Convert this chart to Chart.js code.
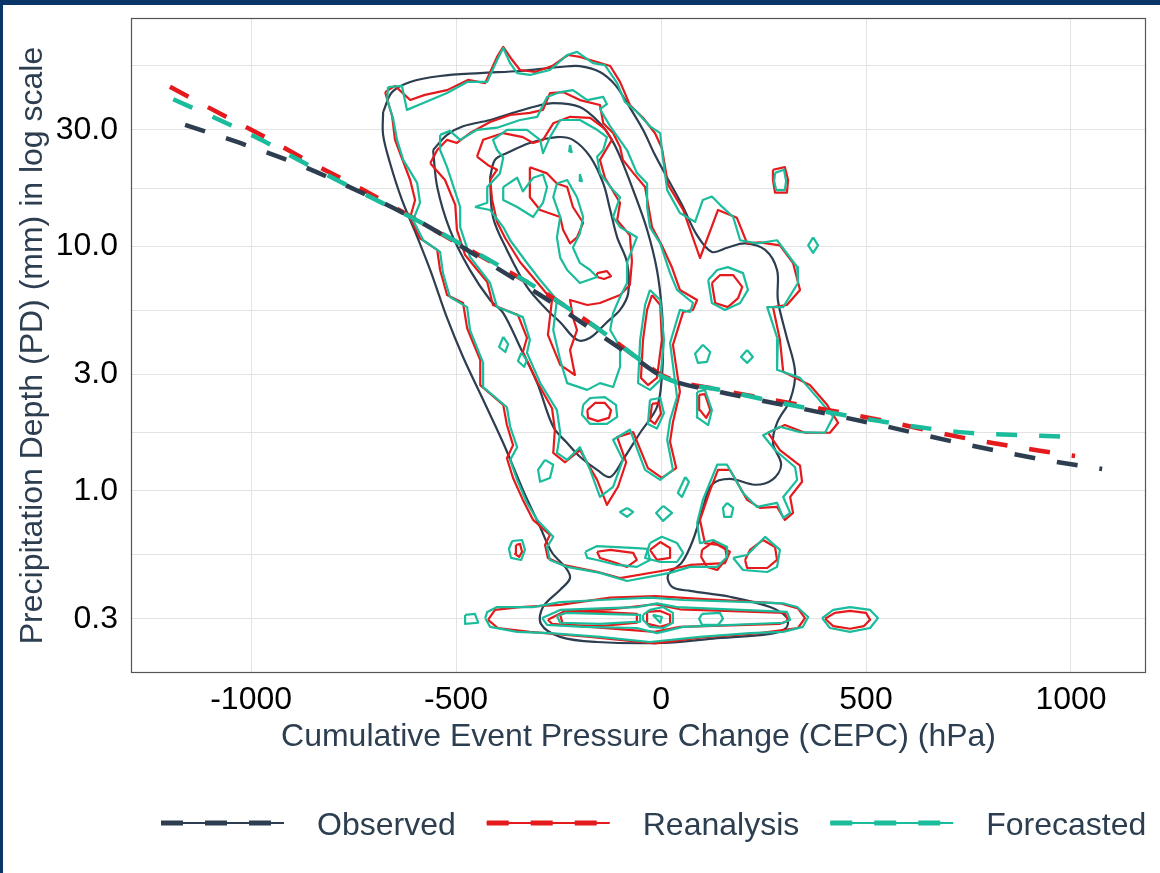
<!DOCTYPE html>
<html>
<head>
<meta charset="utf-8">
<script src="https://cdn.jsdelivr.net/npm/chart.js@4"></script>
<style>
  html, body { margin: 0; padding: 0; background: #fff; }
  canvas { display: block; }
</style>
</head>
<body>
<canvas id="grafico" width="1160" height="873"></canvas>
<script>
// Series, ticks and contour paths (x = CEPC in hPa, y = PD in mm)
const seriesNames = ['Observed', 'Reanalysis', 'Forecasted'];
const seriesColors = ['#2c3e50', '#e41a1c', '#1abc9c'];
const xTicks = [-1000, -500, 0, 500, 1000];
const yTicks = [0.3, 1, 3, 10, 30];
const yMinor = [0.548, 1.73, 5.48, 17.3, 54.8];

// trend lines
const obsTrend = [[-1161,31.4],[-1027,26.5],[-880,21.5],[-734,16.7],[-588,12.6],[-441,8.97],[-295,6.33],[-149,4.35],[-51,3.37],[10,2.90],[144,2.54],[339,2.18],[534,1.86],[729,1.57],[924,1.35],[1076,1.23]];
const reaTrend = [[-1198,45.0],[-1061,33.9],[-966,28.0],[-871,22.8],[-734,17.3],[-588,12.6],[-441,9.15],[-295,6.64],[-149,4.55],[-51,3.43],[10,2.93],[144,2.59],[339,2.25],[534,1.95],[729,1.66],[924,1.46],[1010,1.39]];
const fcTrend = [[-1190,40.0],[-1061,32.0],[-966,26.8],[-871,22.0],[-734,16.7],[-588,12.6],[-441,9.23],[-295,6.64],[-149,4.55],[-51,3.43],[10,2.90],[144,2.59],[339,2.21],[534,1.93],[729,1.74],[924,1.68],[1010,1.66]];

// observed density contours
const obsLevel1 = [[-678,35.5],[-656,42.8],[-612,47.1],[-539,49.8],[-441,51.2],[-344,52.2],[-246,54.2],[-198,54.7],[-149,51.7],[-112,45.8],[-80,37.9],[-44,30.0],[-15,23.7],[15,19.1],[51,14.8],[88,11.1],[124,9.5],[163,9.9],[205,10.3],[254,9.68],[283,8.01],[285,6.04],[305,4.35],[327,3.07],[315,2.36],[283,1.90],[273,1.57],[293,1.28],[271,1.11],[229,1.06],[168,1.12],[124,1.06],[102,0.85],[78,0.63],[51,0.51],[17,0.453],[27,0.405],[71,0.39],[168,0.369],[266,0.335],[307,0.303],[305,0.275],[266,0.26],[127,0.249],[5,0.239],[-156,0.241],[-246,0.253],[-293,0.286],[-288,0.335],[-246,0.394],[-222,0.44],[-232,0.484],[-266,0.56],[-295,0.712],[-337,1.01],[-385,1.57],[-434,2.36],[-483,3.53],[-522,5.1],[-563,8.0],[-600,11.5],[-632,15.5],[-661,21.9],[-678,28.6]];
const obsLevel2 = [[-556,24.8],[-522,28.6],[-483,31.0],[-417,32.9],[-361,35.2],[-312,37.2],[-263,38.6],[-198,37.2],[-149,31.9],[-120,27.3],[-100,23.3],[-68,17.0],[-34,11.7],[-10,8.01],[2,5.5],[5,3.96],[2,2.93],[-10,2.2],[-51,1.73],[-93,1.34],[-124,1.14],[-156,1.22],[-198,1.38],[-229,1.57],[-263,1.83],[-302,2.76],[-344,3.88],[-385,5.34],[-417,6.04],[-466,8.0],[-515,11.7],[-546,17.5]];
const obsLevel3 = [[-417,19.2],[-405,22.6],[-376,24.1],[-320,26.5],[-254,28.0],[-215,27.3],[-173,23.3],[-141,18.1],[-124,14.1],[-107,10.9],[-83,8.6],[-80,6.45],[-100,5.5],[-132,4.9],[-173,4.23],[-205,4.15],[-246,4.9],[-278,5.5],[-327,6.83],[-376,9.68],[-410,13.2]];

// reanalysis density contours
const reaLevel1 = [[-673,42.8],[-649,45.4],[-612,39.7],[-576,41.7],[-522,43.6],[-471,48.0],[-429,46.6],[-400,59.6],[-385,65.5],[-363,57.9],[-344,52.7],[-307,51.7],[-266,54.7],[-227,60.7],[-198,59.6],[-154,56.7],[-124,54.7],[-100,47.1],[-76,37.9],[-44,33.6],[-15,29.1],[2,25.3],[17,17.9],[54,14.1],[95,8.97],[139,14.1],[185,13.1],[210,10.3],[241,10.4],[290,10.1],[322,8.56],[339,6.64],[307,5.76],[273,5.65],[290,4.15],[298,3.07],[363,2.71],[405,2.25],[432,1.90],[412,1.73],[351,1.73],[302,1.86],[261,1.73],[290,1.47],[339,1.27],[344,1.09],[315,0.945],[322,0.813],[302,0.761],[283,0.860],[241,0.852],[210,0.919],[168,1.22],[139,1.22],[120,1.01],[95,0.761],[107,0.612],[139,0.601],[168,0.564],[156,0.507],[71,0.498],[15,0.475],[-100,0.440],[-156,0.467],[-239,0.498],[-276,0.532],[-283,0.601],[-271,0.661],[-312,0.761],[-337,0.919],[-361,1.13],[-376,1.36],[-361,1.54],[-376,1.86],[-385,2.25],[-441,2.71],[-441,3.43],[-473,4.63],[-483,5.87],[-522,6.33],[-539,8.01],[-546,9.68],[-588,10.8],[-612,13.1],[-600,15.5],[-612,18.7],[-649,27.3],[-656,34.1]];
const reaLevel2 = [[-563,21.9],[-546,24.8],[-522,27.3],[-498,26.5],[-466,29.1],[-417,32.3],[-368,34.5],[-320,35.2],[-288,36.2],[-271,42.4],[-239,42.8],[-198,39.7],[-149,37.9],[-141,31.9],[-117,29.1],[-100,25.5],[-93,22.6],[-68,20.0],[-39,17.5],[-32,15.0],[-22,12.0],[2,10.1],[27,8.18],[46,6.64],[88,6.04],[78,5.50],[54,5.40],[29,3.96],[46,2.54],[29,1.91],[22,1.59],[37,1.24],[2,1.13],[-32,1.24],[-68,1.74],[-107,1.66],[-85,1.31],[-105,1.04],[-132,0.877],[-156,1.11],[-198,1.47],[-234,1.31],[-263,1.43],[-259,1.78],[-266,2.18],[-302,2.79],[-337,3.70],[-327,4.23],[-349,5.24],[-410,5.76],[-424,7.16],[-478,9.23],[-498,11.7],[-502,14.8],[-527,18.7]];
const reaLevel3 = [[-449,23.3],[-434,27.3],[-385,29.1],[-337,28.0],[-312,26.5],[-288,27.3],[-263,31.9],[-222,33.9],[-173,33.6],[-137,30.3],[-120,27.3],[-149,22.6],[-137,19.1],[-100,15.1],[-107,12.8],[-76,11.1],[-71,8.7],[-76,6.96],[-100,6.33],[-149,5.87],[-180,5.76],[-222,6.04],[-215,5.14],[-205,4.55],[-222,3.77],[-210,2.98],[-246,3.28],[-276,4.35],[-266,6.04],[-307,7.29],[-344,8.64],[-380,10.8],[-400,12.6],[-412,15.5],[-417,18.7],[-400,20.6],[-422,21.5]];
const reaInner = [
  [[-320,21.1],[-278,19.9],[-254,18.1],[-229,17.5],[-215,14.5],[-190,12.5],[-205,10.9],[-222,10.3],[-239,11.7],[-246,13.2],[-295,14.1],[-320,15.9]],
  [[-156,7.78],[-132,7.93],[-122,7.56],[-139,7.36],[-156,7.5]]
];
const reaIslands = [
  [[-180,2.14],[-161,2.29],[-137,2.29],[-122,2.14],[-127,1.99],[-154,1.93],[-178,1.99]],
  [[-22,6.33],[-2,5.76],[2,4.15],[-10,2.90],[-32,2.71],[-49,2.90],[-44,4.15],[-34,5.5]],
  [[124,7.09],[144,7.64],[176,7.64],[198,6.83],[188,6.15],[163,5.65],[132,5.87]],
  [[273,20.6],[302,21.1],[310,18.7],[307,16.6],[278,16.6],[273,18.7]],
  [[93,2.47],[107,2.49],[120,2.14],[110,1.99],[95,2.14]],
  [[-22,2.27],[-5,2.29],[0,2.07],[-15,1.88],[-27,1.95]],
  [[-354,0.601],[-344,0.607],[-339,0.564],[-346,0.537],[-356,0.553]],
  [[-156,0.564],[-124,0.574],[-68,0.558],[-59,0.522],[-83,0.489],[-117,0.512],[-149,0.532]],
  [[-27,0.574],[-2,0.618],[22,0.584],[22,0.532],[-10,0.522]],
  [[100,0.574],[127,0.618],[156,0.590],[161,0.532],[137,0.475],[112,0.489],[98,0.537]],
  [[205,0.522],[217,0.574],[249,0.630],[278,0.590],[283,0.522],[259,0.484],[210,0.484]]
];
const reaBand = [
  [[-422,0.297],[-405,0.326],[-344,0.335],[-246,0.342],[-124,0.366],[-15,0.371],[95,0.362],[290,0.347],[334,0.331],[351,0.302],[334,0.275],[241,0.262],[95,0.251],[-15,0.238],[-173,0.253],[-320,0.265],[-398,0.275]],
  [[-276,0.297],[-234,0.323],[-124,0.328],[-15,0.344],[46,0.328],[302,0.317],[310,0.294],[290,0.286],[46,0.278],[-15,0.265],[-198,0.280],[-266,0.286]],
  [[-246,0.311],[-229,0.320],[-149,0.320],[-59,0.314],[-59,0.289],[-149,0.280],[-239,0.283]],
  [[-34,0.320],[-2,0.323],[22,0.311],[22,0.286],[-2,0.278],[-32,0.286]],
  [[400,0.300],[424,0.317],[461,0.323],[500,0.317],[510,0.297],[495,0.280],[461,0.273],[420,0.280]]
];

// forecasted density contours
const fcLevel1 = [[-666,44.9],[-632,45.4],[-620,36.2],[-580,38.6],[-522,42.4],[-473,47.1],[-424,47.1],[-400,57.9],[-385,64.8],[-368,56.2],[-351,51.2],[-320,50.3],[-271,52.7],[-229,60.7],[-205,62.5],[-166,56.2],[-137,55.2],[-107,46.6],[-88,39.0],[-59,35.5],[-27,31.0],[-2,29.1],[2,24.8],[15,17.0],[46,13.7],[83,12.6],[102,15.5],[124,16.0],[144,14.8],[176,13.2],[193,10.6],[234,10.3],[283,10.6],[332,8.24],[334,7.09],[298,5.65],[259,5.65],[285,4.15],[283,3.13],[339,2.90],[380,2.42],[420,2.01],[400,1.73],[339,1.74],[290,1.83],[249,1.69],[278,1.47],[327,1.25],[332,1.11],[298,0.945],[315,0.813],[298,0.776],[283,0.893],[234,0.860],[200,0.981],[161,1.28],[137,1.28],[102,0.919],[88,0.740],[95,0.612],[127,0.630],[161,0.590],[161,0.537],[137,0.489],[71,0.489],[22,0.462],[-83,0.428],[-149,0.462],[-229,0.489],[-271,0.522],[-278,0.590],[-263,0.649],[-302,0.761],[-327,0.893],[-351,1.11],[-368,1.34],[-351,1.51],[-368,1.83],[-376,2.20],[-434,2.66],[-434,3.34],[-466,4.55],[-473,5.65],[-515,6.21],[-532,7.78],[-539,9.50],[-580,10.6],[-605,12.8],[-588,15.1],[-595,18.2],[-629,22.6],[-644,27.3],[-654,33.6],[-668,39.7]];
const fcLevel2 = [[-539,28.6],[-515,29.7],[-490,27.3],[-449,30.0],[-400,30.6],[-344,32.9],[-302,33.9],[-278,40.9],[-246,42.8],[-215,43.6],[-180,39.7],[-141,40.9],[-132,38.2],[-149,36.5],[-124,31.0],[-83,24.8],[-59,20.0],[-34,18.1],[-34,14.5],[-27,12.0],[-2,10.3],[22,7.78],[39,6.64],[78,5.87],[71,5.40],[46,5.50],[22,4.03],[39,2.42],[22,1.95],[15,1.62],[29,1.22],[-2,1.11],[-39,1.22],[-76,1.78],[-117,1.62],[-93,1.34],[-117,1.04],[-149,0.945],[-173,1.22],[-198,1.51],[-229,1.34],[-254,1.43],[-246,1.73],[-254,2.14],[-295,2.77],[-327,3.67],[-320,4.15],[-337,5.14],[-400,5.65],[-417,7.09],[-466,9.06],[-490,12.0],[-490,14.5],[-522,21.1],[-539,24.8]];
const fcLevel3 = [[-454,14.5],[-424,15.1],[-424,17.5],[-393,19.9],[-385,23.1],[-400,24.8],[-410,27.3],[-376,30.0],[-327,30.0],[-295,27.3],[-288,24.1],[-271,28.0],[-246,32.9],[-198,32.9],[-156,30.0],[-132,28.0],[-141,24.8],[-156,23.3],[-149,19.9],[-117,17.0],[-100,15.9],[-117,13.2],[-100,12.0],[-59,10.9],[-83,8.6],[-83,7.09],[-100,6.21],[-117,5.34],[-124,4.55],[-100,3.88],[-100,3.22],[-117,2.66],[-149,2.76],[-180,2.59],[-229,2.76],[-246,3.43],[-263,4.55],[-254,6.04],[-295,7.29],[-327,8.56],[-368,10.6],[-385,12.0],[-417,14.1]];
const fcInner = [
  [[-385,17.5],[-351,19.1],[-337,16.8],[-312,19.1],[-288,19.7],[-278,17.5],[-288,15.1],[-312,13.2],[-351,14.5],[-385,15.5]],
  [[-254,18.1],[-229,18.7],[-205,15.9],[-190,13.2],[-198,11.3],[-215,9.9],[-198,8.56],[-173,8.01],[-156,7.5],[-198,7.09],[-229,8.01],[-246,9.0],[-254,10.9],[-246,13.2],[-263,15.9]],
  [[-222,26.0],[-218,24.3],[-224,24.5]],
  [[-198,19.8],[-193,18.5],[-199,18.6]]
];
const fcIslands = [
  [[-190,2.25],[-173,2.40],[-137,2.42],[-110,2.25],[-107,2.01],[-132,1.88],[-173,1.88],[-193,2.05]],
  [[-27,6.64],[-2,6.04],[7,4.15],[-2,2.84],[-27,2.59],[-56,2.76],[-51,4.15],[-39,5.76]],
  [[115,7.29],[137,8.01],[163,8.23],[200,7.78],[212,6.64],[193,5.87],[156,5.50],[124,5.87]],
  [[278,20.0],[300,20.6],[305,18.5],[302,17.0],[281,17.0],[276,18.5]],
  [[371,10.9],[383,10.1],[371,9.41],[359,10.1]],
  [[-385,4.27],[-373,3.99],[-380,3.70],[-395,3.88]],
  [[-341,3.67],[-327,3.43],[-334,3.22],[-349,3.40]],
  [[-283,1.34],[-263,1.28],[-271,1.13],[-295,1.09],[-300,1.22]],
  [[102,3.96],[120,3.70],[112,3.37],[90,3.34],[83,3.64]],
  [[210,3.77],[224,3.53],[210,3.34],[195,3.53]],
  [[59,1.14],[68,1.09],[51,0.945],[41,0.981]],
  [[161,0.893],[176,0.852],[171,0.783],[154,0.783],[151,0.852]],
  [[-83,0.852],[-68,0.82],[-83,0.783],[-100,0.82]],
  [[5,0.868],[27,0.813],[5,0.754],[-12,0.813]],
  [[88,2.54],[107,2.59],[124,2.14],[115,1.86],[90,1.99]],
  [[-27,2.36],[-2,2.40],[7,2.08],[-10,1.80],[-32,1.88]],
  [[-363,0.624],[-339,0.630],[-332,0.574],[-341,0.522],[-366,0.532],[-371,0.580]],
  [[-185,0.564],[-156,0.595],[-59,0.584],[-34,0.579],[-27,0.522],[-59,0.489],[-107,0.498],[-156,0.522],[-180,0.532]],
  [[-27,0.612],[2,0.649],[39,0.612],[54,0.558],[39,0.512],[-2,0.512],[-39,0.532]],
  [[176,0.532],[210,0.547],[254,0.649],[290,0.574],[283,0.489],[259,0.466],[200,0.475]]
];
const fcBand = [
  [[-429,0.302],[-424,0.320],[-400,0.335],[-312,0.335],[-246,0.351],[-149,0.358],[-27,0.366],[54,0.358],[217,0.351],[298,0.347],[332,0.335],[359,0.305],[346,0.278],[298,0.265],[217,0.262],[95,0.253],[-27,0.241],[-149,0.253],[-271,0.262],[-351,0.265],[-417,0.278]],
  [[-290,0.302],[-246,0.326],[-149,0.331],[-59,0.335],[-10,0.347],[39,0.335],[307,0.320],[315,0.297],[298,0.289],[54,0.278],[-10,0.262],[-59,0.275],[-190,0.278],[-278,0.283]],
  [[-254,0.308],[-234,0.317],[-149,0.314],[-51,0.311],[-51,0.292],[-149,0.286],[-246,0.289]],
  [[-44,0.311],[-27,0.326],[5,0.335],[29,0.317],[29,0.289],[5,0.275],[-27,0.278],[-44,0.297]],
  [[-20,0.311],[2,0.305],[-2,0.289]],
  [[100,0.314],[144,0.317],[151,0.300],[139,0.283],[100,0.283],[93,0.300]],
  [[393,0.302],[420,0.326],[461,0.335],[510,0.326],[529,0.302],[510,0.275],[461,0.265],[412,0.275]],
  [[-478,0.311],[-454,0.314],[-446,0.289],[-478,0.286]]
];

const fontFamily = '"Liberation Sans", Arial, sans-serif';
const titleColor = '#2c3e50';

function contour(points, color, order, tension) {
  const closed = points.concat([points[0]]);
  return {
    type: 'line',
    data: closed.map(p => ({x: p[0], y: p[1]})),
    borderColor: color,
    borderWidth: 2.2,
    borderJoinStyle: 'round',
    pointRadius: 0,
    fill: false,
    tension: tension || 0,
    order: order
  };
}

function trend(points, color, order) {
  return {
    type: 'line',
    data: points.map(p => ({x: p[0], y: p[1]})),
    borderColor: color,
    borderWidth: 4.5,
    borderDash: [21, 22],
    borderCapStyle: 'butt',
    pointRadius: 0,
    fill: false,
    cubicInterpolationMode: 'monotone',
    order: order
  };
}

const datasets = [];
datasets.push(trend(obsTrend, seriesColors[0], 0));
datasets.push(trend(fcTrend, seriesColors[2], 1));
datasets.push(trend(reaTrend, seriesColors[1], 2));
[fcLevel1, fcLevel2, fcLevel3].concat(fcInner, fcIslands, fcBand)
  .forEach(c => datasets.push(contour(c, seriesColors[2], 3)));
[reaLevel1, reaLevel2, reaLevel3].concat(reaInner, reaIslands, reaBand)
  .forEach(c => datasets.push(contour(c, seriesColors[1], 4)));
[obsLevel1, obsLevel2, obsLevel3]
  .forEach(c => datasets.push(contour(c, seriesColors[0], 5, 0.35)));

const pageDecor = {
  id: 'pageDecor',
  beforeDraw(chart) {
    const ctx = chart.ctx;
    ctx.save();
    ctx.fillStyle = '#ffffff';
    ctx.fillRect(0, 0, chart.width, chart.height);
    ctx.restore();
  },
  afterDraw(chart) {
    const ctx = chart.ctx;
    const a = chart.chartArea;
    ctx.save();
    // panel border
    ctx.strokeStyle = '#555555';
    ctx.lineWidth = 1.2;
    ctx.strokeRect(a.left + 0.5, a.top + 0.5, a.right - a.left - 1, a.bottom - a.top - 1);

    // legend
    ctx.font = '32px ' + fontFamily;
    ctx.textBaseline = 'alphabetic';
    let x = 161;
    const y = 823;
    seriesNames.forEach((name, i) => {
      ctx.strokeStyle = seriesColors[i];
      ctx.lineCap = 'butt';
      ctx.lineWidth = 2;
      ctx.beginPath(); ctx.moveTo(x, y); ctx.lineTo(x + 123, y); ctx.stroke();
      ctx.lineWidth = 5;
      for (let k = 0; k < 3; k++) {
        ctx.beginPath(); ctx.moveTo(x + k * 44, y); ctx.lineTo(x + k * 44 + 22, y); ctx.stroke();
      }
      ctx.fillStyle = titleColor;
      ctx.fillText(name, x + 156, y + 12);
      x += 156 + ctx.measureText(name).width + 31;
    });

    // page frame
    ctx.fillStyle = '#0a3569';
    ctx.fillRect(0, 0, chart.width, 5);
    ctx.fillRect(0, 0, 3, chart.height);
    ctx.restore();
  }
};

new Chart(document.getElementById('grafico'), {
  type: 'line',
  data: { datasets: datasets },
  options: {
    responsive: false,
    animation: false,
    layout: { padding: { top: 18, right: 14, bottom: 110, left: 0 } },
    plugins: { legend: { display: false }, tooltip: { enabled: false } },
    scales: {
      x: {
        type: 'linear',
        min: -1293,
        max: 1183,
        afterBuildTicks: s => { s.ticks = xTicks.map(v => ({ value: v })); },
        afterFit: s => { s.height = 90; s.paddingLeft = 0; s.paddingRight = 0; },
        grid: { color: '#e3e3e3', lineWidth: 1, drawTicks: false },
        border: { display: false },
        ticks: {
          padding: 8, color: '#000', maxRotation: 0, autoSkip: false,
          font: { size: 32, family: fontFamily },
          callback: v => String(v)
        },
        title: {
          display: true,
          text: 'Cumulative Event Pressure Change (CEPC) (hPa)',
          color: titleColor,
          font: { size: 32, family: fontFamily },
          padding: { top: 0, bottom: 7 }
        }
      },
      y: {
        type: 'logarithmic',
        min: 0.18,
        max: 86,
        afterBuildTicks: s => {
          s.ticks = yTicks.concat(yMinor).sort((a, b) => a - b).map(v => ({ value: v }));
        },
        afterFit: s => { s.width = 131; s.paddingTop = 0; s.paddingBottom = 0; },
        grid: { color: '#e3e3e3', lineWidth: 1, drawTicks: false },
        border: { display: false },
        ticks: {
          padding: 13,
          color: '#000',
          autoSkip: false,
          font: { size: 32, family: fontFamily },
          callback: v => yTicks.includes(v) ? v.toFixed(1) : ''
        },
        title: {
          display: true,
          text: 'Precipitation Depth (PD) (mm) in log scale',
          color: titleColor,
          font: { size: 32, family: fontFamily },
          padding: { top: 14, bottom: 0 }
        }
      }
    }
  },
  plugins: [pageDecor]
});
</script>
</body>
</html>
